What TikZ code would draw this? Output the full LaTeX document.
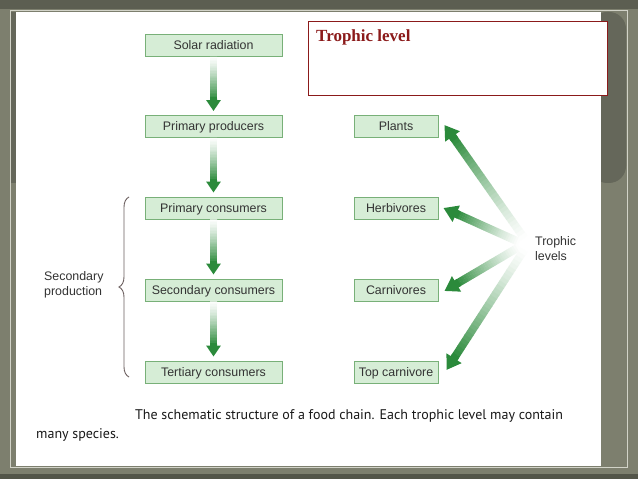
\documentclass[tikz,border=0pt]{standalone}
\usepackage{fontspec}
\setmainfont{Liberation Sans}
\newfontfamily\capfont{PT Sans}
\newfontfamily\titlefont{Liberation Serif}
\usetikzlibrary{calc,arrows.meta,decorations.pathreplacing}
\definecolor{bgrey}{HTML}{7D7F6E}
\definecolor{dgrey}{HTML}{65675A}
\definecolor{topgrey}{HTML}{5C5E51}
\definecolor{frameline}{HTML}{D2D3C8}
\definecolor{boxfill}{HTML}{D6EDD6}
\definecolor{boxdraw}{HTML}{78B078}
\definecolor{agreen}{HTML}{2B8A3B}
\definecolor{txtgrey}{HTML}{333333}
\definecolor{titlered}{HTML}{8B1A1A}
\definecolor{bracecol}{HTML}{6B5E5E}

\newcommand{\gradarrow}[5]{%
  \coordinate (gbase) at ($(#2)!#5!(#1)$);%
  \foreach \i in {0,...,29}{%
    \pgfmathsetmacro\pa{\i/30}%
    \pgfmathsetmacro\pb{min((\i+1.1)/30,1)}%
    \pgfmathtruncatemacro\pc{100*((\i+1)/30)^1.3}%
    \draw[line width=#3, draw=agreen!\pc!white] ($(#1)!\pa!(gbase)$) -- ($(#1)!\pb!(gbase)$);
  }%
  \draw[line width=#3, agreen, -{Triangle[width=#4,length=#5]}] ($(#2)!#5+3bp!(#1)$) -- (#2);
}

\tikzset{
  box/.style={draw=boxdraw, fill=boxfill, line width=0.9bp, minimum height=22bp,
    inner sep=0pt, text height=9bp, text depth=0bp, text=txtgrey, font=\fontsize{12.4bp}{14bp}\selectfont},
  lbox/.style={box, minimum width=137bp},
  rbox/.style={box, minimum width=84bp},
  lbl/.style={text=txtgrey, font=\fontsize{12.4bp}{15bp}\selectfont, align=left, inner sep=0pt},
  captxt/.style={text=black!90, font=\capfont\fontsize{14bp}{16bp}\selectfont, inner sep=0pt},
}

\begin{document}
\begin{tikzpicture}[x=1bp,y=-1bp]
\useasboundingbox (0,0) rectangle (638,479);
% slide background
\fill[bgrey] (0,0) rectangle (638,479);
\fill[topgrey] (0,0) rectangle (638,9);
\fill[topgrey!90!black] (0,474) rectangle (638,479);
\draw[frameline, line width=1.3bp] (10.5,10.5) rectangle (627.5,467.5);
\fill[dgrey] (11,12) rectangle (16,183);
\fill[dgrey, rounded corners=17bp] (590,12) -- (626,12) -- (626,183) -- (590,183) -- cycle;
\fill[white] (16,12) rectangle (601,466);

% title box
\node[draw=titlered, line width=1bp, minimum width=299bp, minimum height=74bp, inner sep=0pt,
  anchor=north west, fill=white] (tbox) at (308,21) {};
\node[anchor=base west, inner sep=0pt, text=titlered, font=\titlefont\bfseries\fontsize{17bp}{20bp}\selectfont]
  (ttitle) at ($(tbox.north west)+(8,21)$) {Trophic level};

% left column
\node[lbox] (solar) at (213.5,45.5) {Solar radiation};
\node[lbox] (prod)  at (213.5,126.5) {Primary producers};
\node[lbox] (pcons) at (213.5,208) {Primary consumers};
\node[lbox] (scons) at (213.5,290) {Secondary consumers};
\node[lbox] (tcons) at (213.5,372) {Tertiary consumers};

% right column
\node[rbox] (plants) at (396,126.5) {Plants};
\node[rbox] (herb)   at (396,208.5) {Herbivores};
\node[rbox] (carn)   at (396,290) {Carnivores};
\node[rbox] (topc)   at (396,372) {Top carnivore};

% labels
\node[lbl, anchor=west] (troph) at (535,249) {Trophic\\levels};
\node[lbl, anchor=west] (secprod) at (44,284.5) {Secondary\\production};

% vertical arrows
\gradarrow{solar.south}{$(prod.north)+(0,-4)$}{7bp}{14bp}{11bp}
\gradarrow{prod.south}{$(pcons.north)+(0,-4)$}{7bp}{14bp}{11bp}
\gradarrow{pcons.south}{$(scons.north)+(0,-4)$}{7bp}{14bp}{11bp}
\gradarrow{scons.south}{$(tcons.north)+(0,-4)$}{7bp}{14bp}{11bp}

% diagonal arrows
\coordinate (tp) at (524,238);
\coordinate (th) at (519,242);
\coordinate (tc) at (519,247);
\coordinate (tt) at (524,250);
\coordinate (hp) at ($(plants.east)+(6,-1.5)$);
\coordinate (hh) at ($(herb.east)+(5,-0.5)$);
\coordinate (hc) at ($(carn.east)+(6,1)$);
\coordinate (ht) at ($(topc.east)+(8,-2)$);
\gradarrow{tp}{hp}{8bp}{17bp}{14bp}
\gradarrow{th}{hh}{8bp}{17bp}{14bp}
\gradarrow{tc}{hc}{8bp}{17bp}{14bp}
\gradarrow{tt}{ht}{8bp}{17bp}{14bp}

% brace
\coordinate (bb) at (129,377);
\coordinate (bt) at (129,197);
\draw[bracecol, line width=0.9bp, decorate, decoration={brace, amplitude=10bp}] (bb) -- (bt);

% caption
\node[captxt, anchor=base west] (cap1) at (135,419.5) {The schematic structure of a food chain. Each trophic level may contain};
\node[captxt, anchor=base west] (cap2) at (36,438.5) {many species.};
\end{tikzpicture}
\end{document}
